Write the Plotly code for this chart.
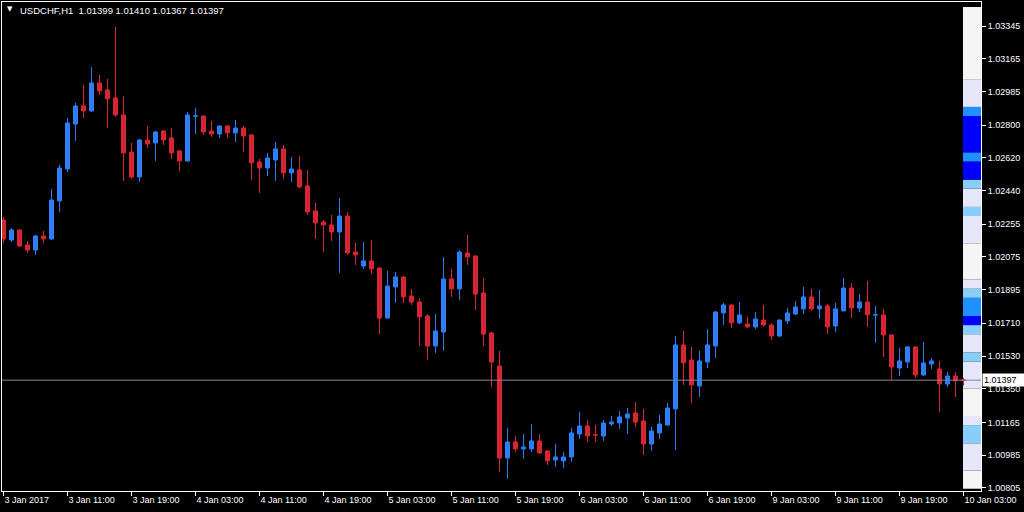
import plotly.graph_objects as go

# ---------------- data (USDCHF H1, 3 Jan 2017 03:00 -> 10 Jan 2017 03:00) ----------------
opens = [1.02278, 1.02168, 1.02223, 1.02141, 1.02113, 1.02190, 1.02174, 1.02383, 1.02559, 1.02806,
         1.02905, 1.02878, 1.03032, 1.02993, 1.02949, 1.02856, 1.02652, 1.02515, 1.02718, 1.02702,
         1.02768, 1.02729, 1.02658, 1.02603, 1.02849, 1.02850, 1.02768, 1.02751, 1.02795, 1.02757,
         1.02784, 1.02746, 1.02597, 1.02564, 1.02608, 1.02669, 1.02537, 1.02553, 1.02465, 1.02328,
         1.02267, 1.02251, 1.02212, 1.02300, 1.02102, 1.02025, 1.02053, 1.02014, 1.01739, 1.01910,
         1.01965, 1.01860, 1.01827, 1.01750, 1.01585, 1.01662, 1.01954, 1.01899, 1.02097, 1.02080,
         1.01877, 1.01657, 1.01475, 1.00969, 1.01057, 1.01019, 1.01019, 1.01063, 1.01008, 1.00958,
         1.00953, 1.00975, 1.01101, 1.01145, 1.01097, 1.01090, 1.01156, 1.01162, 1.01189, 1.01217,
         1.01173, 1.01046, 1.01107, 1.01151, 1.01239, 1.01591, 1.01508, 1.01365, 1.01497, 1.01585,
         1.01767, 1.01811, 1.01712, 1.01706, 1.01690, 1.01728, 1.01701, 1.01640, 1.01723, 1.01761,
         1.01789, 1.01855, 1.01789, 1.01805, 1.01695, 1.01778, 1.01904, 1.01794, 1.01827, 1.01755,
         1.01756, 1.01646, 1.01464, 1.01497, 1.01580, 1.01426, 1.01486, 1.01459, 1.01376, 1.01420,
         1.01399]
highs = [1.02295, 1.02234, 1.02225, 1.02163, 1.02196, 1.02218, 1.02449, 1.02581, 1.02839, 1.02922,
         1.03021, 1.03120, 1.03076, 1.03054, 1.03340, 1.02960, 1.02702, 1.02724, 1.02795, 1.02768,
         1.02770, 1.02784, 1.02663, 1.02872, 1.02894, 1.02852, 1.02823, 1.02797, 1.02801, 1.02828,
         1.02795, 1.02751, 1.02614, 1.02647, 1.02707, 1.02691, 1.02625, 1.02630, 1.02553, 1.02372,
         1.02278, 1.02306, 1.02399, 1.02322, 1.02152, 1.02157, 1.02168, 1.02016, 1.01998, 1.01992,
         1.01967, 1.01899, 1.01849, 1.01761, 1.01761, 1.02075, 1.02009, 1.02113, 1.02196, 1.02082,
         1.01959, 1.01662, 1.01558, 1.01134, 1.01090, 1.01101, 1.01156, 1.01101, 1.01010, 1.01046,
         1.01002, 1.01134, 1.01222, 1.01178, 1.01151, 1.01178, 1.01200, 1.01228, 1.01244, 1.01277,
         1.01239, 1.01140, 1.01206, 1.01272, 1.01640, 1.01668, 1.01580, 1.01558, 1.01679, 1.01778,
         1.01822, 1.01813, 1.01827, 1.01745, 1.01772, 1.01811, 1.01712, 1.01730, 1.01794, 1.01833,
         1.01910, 1.01899, 1.01893, 1.01816, 1.01822, 1.01959, 1.01932, 1.01871, 1.01943, 1.01805,
         1.01789, 1.01648, 1.01574, 1.01585, 1.01582, 1.01607, 1.01519, 1.01503, 1.01442, 1.01442,
         1.01410]
lows = [1.02152, 1.02157, 1.02130, 1.02097, 1.02086, 1.02152, 1.02168, 1.02322, 1.02542, 1.02713,
        1.02839, 1.02872, 1.02966, 1.02784, 1.02845, 1.02493, 1.02504, 1.02487, 1.02674, 1.02603,
        1.02691, 1.02614, 1.02548, 1.02597, 1.02751, 1.02746, 1.02735, 1.02729, 1.02729, 1.02707,
        1.02652, 1.02498, 1.02427, 1.02520, 1.02493, 1.02504, 1.02487, 1.02454, 1.02306, 1.02174,
        1.02102, 1.02163, 1.01987, 1.02086, 1.02031, 1.02009, 1.01981, 1.01651, 1.01734, 1.01822,
        1.01822, 1.01811, 1.01585, 1.01508, 1.01547, 1.01558, 1.01855, 1.01838, 1.02031, 1.01783,
        1.01585, 1.01360, 1.00892, 1.00854, 1.01002, 1.00964, 1.01002, 1.00991, 1.00931, 1.00920,
        1.00914, 1.00947, 1.01074, 1.01057, 1.01057, 1.01063, 1.01145, 1.01129, 1.01101, 1.01140,
        1.00986, 1.01008, 1.01074, 1.01145, 1.01013, 1.01371, 1.01272, 1.01305, 1.01464, 1.01519,
        1.01701, 1.01684, 1.01706, 1.01684, 1.01679, 1.01690, 1.01618, 1.01635, 1.01706, 1.01756,
        1.01761, 1.01778, 1.01734, 1.01651, 1.01662, 1.01776, 1.01739, 1.01772, 1.01690, 1.01602,
        1.01525, 1.01398, 1.01420, 1.01464, 1.01409, 1.01420, 1.01459, 1.01222, 1.01360, 1.01305,
        1.01367]
closes = [1.02174, 1.02223, 1.02135, 1.02113, 1.02190, 1.02174, 1.02388, 1.02564, 1.02812, 1.02905,
          1.02878, 1.03032, 1.02988, 1.02944, 1.02856, 1.02647, 1.02515, 1.02718, 1.02696, 1.02762,
          1.02718, 1.02647, 1.02603, 1.02856, 1.02851, 1.02762, 1.02751, 1.02795, 1.02757, 1.02784,
          1.02740, 1.02592, 1.02564, 1.02619, 1.02669, 1.02537, 1.02559, 1.02460, 1.02322, 1.02262,
          1.02251, 1.02212, 1.02300, 1.02097, 1.02086, 1.02053, 1.02009, 1.01739, 1.01915, 1.01965,
          1.01855, 1.01827, 1.01745, 1.01585, 1.01668, 1.01954, 1.01899, 1.02102, 1.02075, 1.01871,
          1.01651, 1.01497, 1.00969, 1.01057, 1.01019, 1.01030, 1.01063, 1.00997, 1.00953, 1.00975,
          1.00975, 1.01107, 1.01145, 1.01090, 1.01095, 1.01162, 1.01167, 1.01195, 1.01211, 1.01167,
          1.01046, 1.01118, 1.01156, 1.01244, 1.01591, 1.01492, 1.01371, 1.01503, 1.01591, 1.01772,
          1.01811, 1.01712, 1.01756, 1.01690, 1.01734, 1.01701, 1.01640, 1.01728, 1.01767, 1.01800,
          1.01855, 1.01789, 1.01805, 1.01690, 1.01789, 1.01904, 1.01794, 1.01827, 1.01756, 1.01757,
          1.01646, 1.01470, 1.01503, 1.01580, 1.01426, 1.01492, 1.01503, 1.01376, 1.01420, 1.01393,
          1.01397]

# time-axis labels (every 8th H1 bar, weekend gap removed)
time_tick_bars = [0, 8, 16, 24, 32, 40, 48, 56, 64, 72, 80, 88, 96, 104, 112, 120]
time_tick_labels = ["3 Jan 2017", "3 Jan 11:00", "3 Jan 19:00", "4 Jan 03:00", "4 Jan 11:00",
                    "4 Jan 19:00", "5 Jan 03:00", "5 Jan 11:00", "5 Jan 19:00", "6 Jan 03:00",
                    "6 Jan 11:00", "6 Jan 19:00", "9 Jan 03:00", "9 Jan 11:00", "9 Jan 19:00",
                    "10 Jan 03:00"]

# price-axis labels
price_ticks = [1.03345, 1.03165, 1.02985, 1.02800, 1.02620, 1.02440, 1.02255, 1.02075,
               1.01895, 1.01710, 1.01530, 1.01350, 1.01165, 1.00985, 1.00805]
price_tick_labels = ["1.03345", "1.03165", "1.02985", "1.02800", "1.02620", "1.02440", "1.02255",
                     "1.02075", "1.01895", "1.01710", "1.01530", "1.01350", "1.01165", "1.00985",
                     "1.00805"]

current_price = 1.01397
symbol_title = "USDCHF,H1\u00a0\u00a01.01399 1.01410 1.01367 1.01397"

# price-level density strip (indicator on the right edge)
level_lo = [1.0080, 1.0090, 1.0105, 1.0115, 1.0120, 1.0135, 1.0150, 1.0155, 1.0165, 1.0170,
            1.0175, 1.0185, 1.0190, 1.0195, 1.0215, 1.0230, 1.0235, 1.0245, 1.0250, 1.0260,
            1.0265, 1.0285, 1.0290, 1.0305]
level_hi = [1.0090, 1.0105, 1.0115, 1.0120, 1.0135, 1.0150, 1.0155, 1.0165, 1.0170, 1.0175,
            1.0185, 1.0190, 1.0195, 1.0215, 1.0230, 1.0235, 1.0245, 1.0250, 1.0260, 1.0265,
            1.0285, 1.0290, 1.0305, 1.0345]
level_color = ["whitesmoke", "lavender", "lightskyblue", "lavender", "whitesmoke", "lavender",
               "lightskyblue", "lavender", "lightskyblue", "blue", "dodgerblue", "lightskyblue",
               "lavender", "whitesmoke", "lavender", "lightskyblue", "lavender", "lightskyblue",
               "blue", "dodgerblue", "blue", "dodgerblue", "lavender", "whitesmoke"]

# ---------------- styling ----------------
BULL = "#2E7CF6"
BEAR = "#D82433"
FONT = "Liberation Sans, Arial, sans-serif"
W, H = 1024, 512
ML, MR, MT, MB = 2, 43, 2, 21
STRIP_POS = 121.06
STRIP_W = 2.25

bars = list(range(len(opens)))

fig = go.Figure()

fig.add_trace(go.Bar(
    x=[STRIP_POS] * len(level_lo),
    y=[h - l for l, h in zip(level_lo, level_hi)],
    base=level_lo,
    width=[STRIP_W] * len(level_lo),
    marker=dict(color=level_color, line=dict(width=0)),
    showlegend=False, hoverinfo="skip",
))

fig.add_trace(go.Candlestick(
    x=bars, open=opens, high=highs, low=lows, close=closes,
    increasing=dict(line=dict(color=BULL, width=1), fillcolor=BULL),
    decreasing=dict(line=dict(color=BEAR, width=1), fillcolor=BEAR),
    whiskerwidth=0, showlegend=False,
))

fig.add_shape(type="line", xref="paper", yref="y", x0=0, x1=1,
              y0=current_price, y1=current_price,
              line=dict(color="#7A8899", width=1), layer="above")

fig.add_annotation(xref="paper", yref="y", x=1, y=current_price, xanchor="left", yanchor="middle",
                   xshift=1, text="1.01397", showarrow=False, bgcolor="white",
                   font=dict(family=FONT, size=9, color="black"),
                   width=40, align="left", borderpad=1)

fig.add_annotation(xref="paper", yref="paper", x=(5 - ML) / (W - ML - MR), y=1 - (9 - MT) / (H - MT - MB),
                   xanchor="left", yanchor="middle", text="\u25bc", showarrow=False,
                   font=dict(family="DejaVu Sans", size=7, color="white"))
fig.add_annotation(xref="paper", yref="paper", x=(18 - ML) / (W - ML - MR), y=1 - (10 - MT) / (H - MT - MB),
                   xanchor="left", yanchor="middle", text=symbol_title, showarrow=False,
                   font=dict(family=FONT, size=9.5, color="white"))

fig.update_layout(
    width=W, height=H,
    margin=dict(l=ML, r=MR, t=MT, b=MB, pad=0),
    paper_bgcolor="black", plot_bgcolor="black",
    boxgap=0.5, boxgroupgap=0,
    showlegend=False,
    font=dict(family=FONT, size=9, color="white"),
    xaxis=dict(
        range=[-0.1875, 122.1875], rangeslider=dict(visible=False),
        showgrid=False, zeroline=False,
        showline=True, linecolor="white", linewidth=1, mirror=True,
        tickmode="array", tickvals=time_tick_bars, ticktext=time_tick_labels,
        ticks="outside", ticklen=4, tickcolor="white", tickwidth=1,
        ticklabelposition="outside right",
        tickfont=dict(family=FONT, size=9, color="white"),
    ),
    yaxis=dict(
        range=[1.007875, 1.03477], side="right",
        showgrid=False, zeroline=False,
        showline=True, linecolor="white", linewidth=1, mirror=True,
        tickmode="array", tickvals=price_ticks, ticktext=price_tick_labels,
        ticks="outside", ticklen=4, tickcolor="white", tickwidth=1,
        tickfont=dict(family=FONT, size=9, color="white"),
    ),
)

fig.write_html(
    "out.html",
    config={"displayModeBar": False},
    post_script="document.body.style.margin='0';document.body.style.overflow='hidden';"
                "document.body.style.background='black';",
)
